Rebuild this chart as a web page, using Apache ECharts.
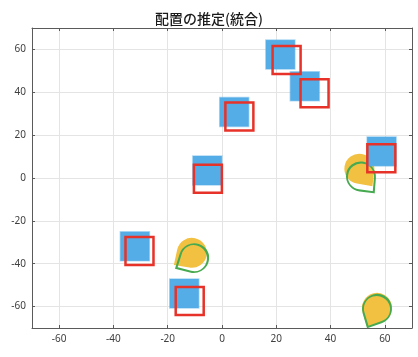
<!DOCTYPE html>
<html><head><meta charset="utf-8">
<script src="https://cdn.jsdelivr.net/npm/echarts@6/dist/echarts.min.js"></script>
<style>html,body{margin:0;padding:0;background:#fff}#c{width:418px;height:357px}</style>
</head><body><div id="c"></div>
<script>
const titleText = '配置の推定(統合)';
// true positions (blue filled squares)
const blueX = [21.5, 30.5, 4.5, -5.4, -32.1, -13.9, 58.8];
const blueY = [57.6, 42.8, 30.8, 3.5, -31.9, -53.9, 12.4];
// estimated positions (red outlined squares)
const redX = [23.8, 34.1, 6.4, -5.2, -30.4, -11.9, 58.7];
const redY = [55.1, 39.5, 28.7, -0.4, -34.1, -57.4, 9.2];
// orange filled pins (position + heading, degrees)
const orangeX = [-11.1, 50.6, 57.1];
const orangeY = [-34.9, 4.3, -60.6];
const orangeHeading = [-56, 37, -27];
// green outlined pins (position + heading, degrees)
const greenX = [-10.3, 51.2, 57.1];
const greenY = [-37.4, 0.7, -61.1];
const greenHeading = [-61, 39, -27];

const chart = echarts.init(document.getElementById('c'), null, {renderer: 'canvas'});
const pts = (xs, ys) => xs.map((x, i) => [x, ys[i]]);
const tear = 'path://M0,-1.45M0,1.45L-0.724,0.69A1,1,0,1,1,0.724,0.69Z';
const font = 'Noto Sans';
const axisLineStyle = {color: '#5a5a5a', width: 1};
function mkAxis(pos, main) {
  return {
    type: 'value', position: pos, min: -70, max: 70, minInterval: 20, maxInterval: 20,
    axisLine: {show: true, onZero: false, lineStyle: axisLineStyle},
    axisTick: {show: true, inside: true, length: 3, lineStyle: axisLineStyle},
    axisLabel: {show: main, color: '#404040', fontSize: 10, fontFamily: font, margin: 6,
      showMinLabel: false, showMaxLabel: false},
    splitLine: {show: main, lineStyle: {color: '#e4e4e4', width: 1}}
  };
}
const option = {
  animation: false,
  backgroundColor: '#fff',
  title: {text: titleText, left: 'center', top: 7,
    textStyle: {fontSize: 14, fontWeight: 500, color: '#1a1a1a', fontFamily: 'Noto Sans CJK JP'}},
  grid: {left: 32, right: 6, top: 28, bottom: 29, containLabel: false, outerBoundsMode: 'none'},
  xAxis: [mkAxis('bottom', true), mkAxis('top', false)],
  yAxis: [mkAxis('left', true), mkAxis('right', false)],
  series: [
    {type: 'scatter', name: 'orange', data: pts(orangeX, orangeY), symbol: tear,
      symbolSize: [30, 43.5], symbolRotate: (v, p) => orangeHeading[p.dataIndex],
      itemStyle: {color: '#F2C142', opacity: 1}, z: 2},
    {type: 'scatter', name: 'green', data: pts(greenX, greenY), symbol: tear,
      symbolSize: [28, 40.6], symbolRotate: (v, p) => greenHeading[p.dataIndex],
      itemStyle: {color: 'rgba(0,0,0,0)', borderColor: '#48AA50', borderWidth: 2, opacity: 1}, z: 3},
    {type: 'scatter', name: 'true', data: pts(blueX, blueY), symbol: 'rect', symbolSize: 29,
      itemStyle: {color: '#55ADE7', borderColor: 'rgba(85,173,231,0.45)', borderWidth: 1.5, opacity: 1}, z: 4},
    {type: 'scatter', name: 'est', data: pts(redX, redY), symbol: 'rect', symbolSize: 28,
      itemStyle: {color: 'rgba(0,0,0,0)', borderColor: '#E63228', borderWidth: 2.5, opacity: 1}, z: 5}
  ]
};
chart.setOption(option);
</script>
</body></html>
